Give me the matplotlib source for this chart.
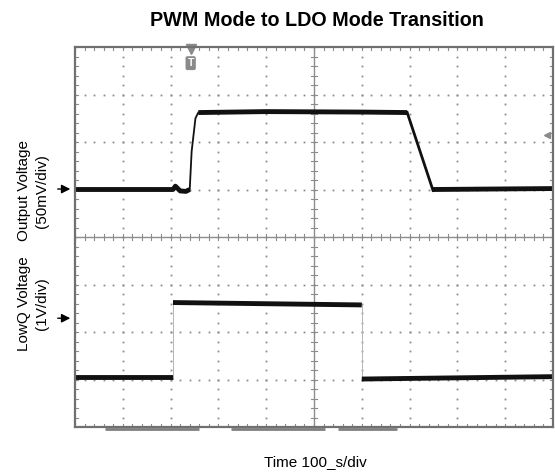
import numpy as np
import matplotlib; matplotlib.use("Agg")
import matplotlib.pyplot as plt

plt.rcParams["font.family"] = ["Liberation Sans", "DejaVu Sans"]

TITLE = "PWM Mode to LDO Mode Transition"
XLABEL = "Time 100_s/div"
CH1_LABEL = "Output Voltage\n(50mV/div)"
CH2_LABEL = "LowQ Voltage\n(1V/div)"

vout_t = [0, 2.05, 2.1, 2.2, 2.32, 2.4]
vout_v = [5.0, 5.0, 5.07, 4.97, 4.96, 5.0]
vout_rise_t = [2.4, 2.44, 2.52, 2.58]
vout_rise_v = [5.0, 5.8, 6.5, 6.62]
vout_high_t = [2.58, 4.0, 6.0, 6.95]
vout_high_v = [6.62, 6.64, 6.63, 6.62]
vout_fall_t = [6.95, 7.49]
vout_fall_v = [6.62, 4.98]
vout_low_t = [7.49, 10]
vout_low_v = [5.0, 5.02]

lowq_t = [0, 2.05, 2.05, 6.0, 6.0, 10]
lowq_v = [1.05, 1.05, 2.62, 2.57, 1.01, 1.06]

ch1_marker = 5.01
ch2_marker = 2.29
trig_t = 2.42
bar_segments = [(0.63, 2.59), (3.26, 5.23), (5.5, 6.74)]

fig = plt.figure(figsize=(5.55, 4.72), dpi=100)
ax = fig.add_axes([75 / 555, 1 - 427 / 472, 478 / 555, 380 / 472])
ax.set_xlim(0, 10)
ax.set_ylim(0, 8)
ax.set_xticks([]); ax.set_yticks([])
for s in ax.spines.values():
    s.set_color("#707070"); s.set_linewidth(1.6)

grid_c = "#8c8c8c"
fine = np.arange(0, 10.01, 0.2)
fine_y = np.arange(0, 8.01, 0.2)
# dotted graticule
for gx in range(1, 10):
    if gx == 5:
        continue
    ax.plot(np.full_like(fine_y, gx), fine_y, ls="none", marker="s", ms=1.3,
            mew=0, color=grid_c)
for gy in range(1, 8):
    if gy == 4:
        continue
    ax.plot(fine, np.full_like(fine, gy), ls="none", marker="s", ms=1.3,
            mew=0, color=grid_c)
# center cross with ticks
ax.axvline(5, color=grid_c, lw=1.0)
ax.axhline(4, color=grid_c, lw=1.0)
tk = 0.07
for yy in fine_y:
    ax.plot([5 - tk, 5 + tk], [yy, yy], color=grid_c, lw=0.8)
    ax.plot([0, tk], [yy, yy], color=grid_c, lw=0.8)
    ax.plot([10 - tk, 10], [yy, yy], color=grid_c, lw=0.8)
for xx in fine:
    ax.plot([xx, xx], [4 - tk, 4 + tk], color=grid_c, lw=0.8)
    ax.plot([xx, xx], [0, tk], color=grid_c, lw=0.8)
    ax.plot([xx, xx], [8 - tk, 8], color=grid_c, lw=0.8)

# traces
tc = "#111111"
ax.plot(vout_t, vout_v, color=tc, lw=3.5, solid_capstyle="butt")
ax.plot(vout_rise_t, vout_rise_v, color=tc, lw=1.3)
ax.plot(vout_high_t, vout_high_v, color=tc, lw=3.5, solid_capstyle="butt")
ax.plot(vout_fall_t, vout_fall_v, color=tc, lw=2.0)
ax.plot(vout_low_t, vout_low_v, color=tc, lw=3.5, solid_capstyle="butt")

lq = np.array(lowq_v)
lt = np.array(lowq_t)
for i in range(0, len(lt) - 1):
    if lt[i] == lt[i + 1]:
        ax.plot(lt[i:i + 2], lq[i:i + 2], color="#b5b5b5", lw=0.7)
    else:
        ax.plot(lt[i:i + 2], lq[i:i + 2], color=tc, lw=3.5, solid_capstyle="butt")

# trigger marker and right-side level marker
ax.plot([trig_t], [7.95], marker="v", ms=7, color="#8a8a8a", clip_on=False)
ax.text(trig_t, 7.66, "T", ha="center", va="center", fontsize=7.5, color="white",
        fontweight="bold",
        bbox=dict(boxstyle="round,pad=0.12", fc="#8a8a8a", ec="#8a8a8a"))
ax.plot([9.87], [6.15], marker="<", ms=5, color="#8a8a8a")

# bottom indicator bars
for a, b in bar_segments:
    ax.plot([a, b], [-0.05, -0.05], color="#808080", lw=2.0, clip_on=False,
            solid_capstyle="butt")

# channel arrows
for yv in (ch1_marker, ch2_marker):
    ax.annotate("", xy=(-0.04, yv), xytext=(-0.42, yv),
                arrowprops=dict(arrowstyle="-|>", color="black", lw=1.0,
                                mutation_scale=13), annotation_clip=False)

fig.text(33 / 555, 1 - 191 / 472, CH1_LABEL, rotation=90, ha="center", va="center",
         fontsize=11, multialignment="center", linespacing=1.3)
fig.text(33 / 555, 1 - 304 / 472, CH2_LABEL, rotation=90, ha="center", va="center",
         fontsize=11, multialignment="center", linespacing=1.3)
fig.text(315 / 555, 1 - 462 / 472, XLABEL, ha="center", va="center", fontsize=11)
fig.text(317 / 555, 1 - 20 / 472, TITLE, ha="center", va="center", fontsize=14.2,
         fontweight="bold")

fig.savefig("out.png", dpi=100)
